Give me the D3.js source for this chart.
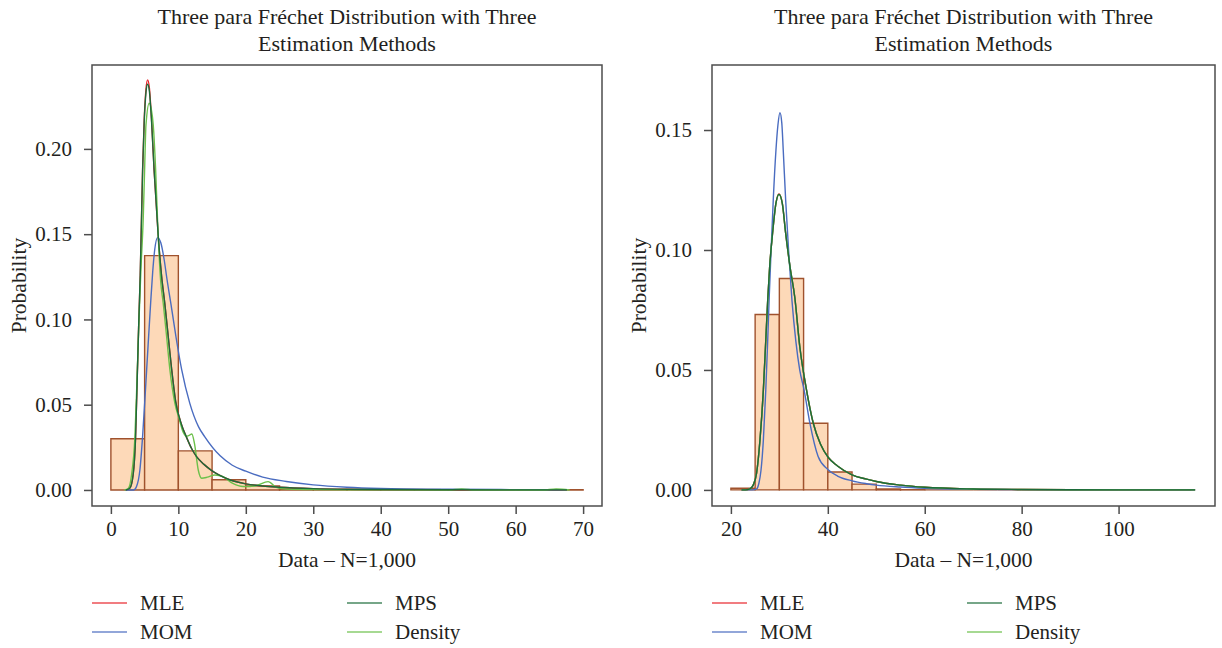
<!DOCTYPE html>
<html>
<head>
<meta charset="utf-8">
<script src="https://cdn.jsdelivr.net/npm/d3@7/dist/d3.min.js"></script>
<style>
  html, body { margin: 0; padding: 0; background: #fff; }
  svg { display: block; }
  text { font-family: "Liberation Serif", "DejaVu Serif", serif; fill: #231f20; }
</style>
</head>
<body>
<svg id="chart" width="1222" height="648"></svg>
<script>
// ---- Histogram bins (left edge of each 5-unit bin) and densities ----
const leftBinStarts  = [0, 5, 10, 15, 20, 25, 30, 35, 40, 45, 50, 55, 60, 65];
const leftHist       = [0.0300, 0.1374, 0.0229, 0.0060, 0.0024, 0.0006, 0.0002,
                        0.0001, 0.0001, 0.0001, 0.0001, 0, 0, 0.0001];
const rightBinStarts = [20, 25, 30, 35, 40, 45, 50, 55, 60, 65, 70, 75, 80, 85,
                        90, 95, 100, 105, 110];
const rightHist      = [0.0007, 0.0731, 0.0881, 0.0278, 0.0075, 0.0024, 0.0004,
                        0.0001, 0, 0, 0, 0, 0, 0, 0, 0, 0, 0, 0];
const binWidthLeft  = 5;
const binWidthRight = 5;

// ---- Fitted curves, [x, density] ----
const leftMLE = [[2.2,0],[2.8,0.001],[3.3,0.009],[3.66,0.031],[3.9,0.065],[4.1,0.094],
  [4.35,0.126],[4.7,0.188],[4.94,0.217],[5.2,0.235],[5.44,0.2405],[5.7,0.236],[6.03,0.217],
  [6.4,0.188],[7.0,0.150],[7.5,0.126],[8.0,0.109],[8.5,0.090],[9.0,0.071],[9.6,0.052],
  [10.5,0.038],[11.2,0.031],[12.0,0.024],[12.7,0.0195],[13.8,0.015],[14.9,0.0115],
  [16,0.0088],[17.6,0.006],[20,0.0036],[22.5,0.0023],[25,0.0016],[30,0.0008],
  [35,0.0004],[40,0.00025],[50,0.0001],[60,0.00005],[67.6,0.00003]];
const leftMPS = [[2.2,0],[2.8,0.001],[3.3,0.009],[3.66,0.031],[3.9,0.065],[4.1,0.094],
  [4.35,0.126],[4.7,0.187],[4.94,0.216],[5.2,0.233],[5.44,0.238],[5.7,0.234],[6.03,0.216],
  [6.4,0.188],[7.0,0.150],[7.5,0.126],[8.0,0.109],[8.5,0.090],[9.0,0.071],[9.6,0.052],
  [10.5,0.038],[11.2,0.031],[12.0,0.024],[12.7,0.0195],[13.8,0.015],[14.9,0.0115],
  [16,0.0088],[17.6,0.006],[20,0.0036],[22.5,0.0023],[25,0.0016],[30,0.0008],
  [35,0.0004],[40,0.00025],[50,0.0001],[60,0.00005],[67.6,0.00003]];
const leftMOM = [[2.2,0],[3.4,0],[3.8,0.002],[4.3,0.0117],[4.7,0.0313],[5.3,0.0704],
  [5.89,0.1095],[6.2,0.128],[6.5,0.141],[6.92,0.148],[7.4,0.145],[7.9,0.135],[8.3,0.124],
  [9.0,0.1065],[9.64,0.090],[10.5,0.0704],[11.7,0.0508],[13.0,0.037],[13.9,0.0313],
  [16.2,0.020],[18,0.0145],[20,0.011],[22.5,0.0075],[26,0.005],[30,0.003],[35,0.0016],
  [40,0.0009],[50,0.0004],[60,0.0002],[67.6,0.0001]];
const leftDensity = [[2.0,0],[2.6,0.001],[3.07,0.009],[3.56,0.031],[3.9,0.068],[4.2,0.103],
  [4.45,0.129],[4.8,0.160],[5.0,0.188],[5.2,0.214],[5.68,0.2268],[6.0,0.223],[6.28,0.214],
  [6.63,0.188],[6.92,0.158],[7.37,0.123],[7.76,0.1095],[8.26,0.090],[8.75,0.0704],
  [9.49,0.0508],[10.1,0.042],[10.7,0.034],[11.2,0.0315],[11.6,0.032],[12.0,0.0328],
  [12.4,0.027],[12.95,0.0117],[13.45,0.0069],[14.3,0.0075],[15.4,0.0088],[16.65,0.0078],
  [18,0.004],[19.6,0.002],[21.5,0.0025],[23.3,0.0049],[24.6,0.0014],[26,0.0005],
  [30,0.0002],[40,0.0001],[50,0],[52,0.0006],[54,0],[64,0],[66,0.0006],[68,0]];

const rightMLE = [[22.2,0],[23.0,0],[23.9,0.0004],[24.6,0.002],[25.3,0.007],[26.0,0.0208],
  [26.7,0.0417],[27.2,0.0625],[27.6,0.0792],[28.0,0.093],[28.6,0.107],[29.3,0.1195],
  [29.92,0.1234],[30.6,0.1195],[31.3,0.107],[32.2,0.093],[33.2,0.080],[34.2,0.060],
  [35.6,0.0417],[37.0,0.0278],[38.5,0.019],[40.1,0.0135],[42,0.0100],[45,0.0063],
  [48,0.0045],[50,0.0035],[55,0.002],[60,0.0011],[70,0.0004],[80,0.00018],[90,0.00008],
  [100,0.00004],[115.8,0.00001]];
const rightMPS = [[22.2,0],[23.0,0],[23.9,0.0004],[24.6,0.002],[25.3,0.007],[26.0,0.0208],
  [26.7,0.0417],[27.2,0.0625],[27.6,0.0792],[28.0,0.093],[28.6,0.107],[29.3,0.1195],
  [29.92,0.1232],[30.6,0.1195],[31.3,0.107],[32.2,0.093],[33.2,0.080],[34.2,0.060],
  [35.6,0.0417],[37.0,0.0278],[38.5,0.019],[40.1,0.0135],[42,0.0100],[45,0.0063],
  [48,0.0045],[50,0.0035],[55,0.002],[60,0.0011],[70,0.0004],[80,0.00018],[90,0.00008],
  [100,0.00004],[115.8,0.00001]];
const rightMOM = [[22.2,0],[24.5,0],[25.3,0.0004],[25.8,0.003],[26.2,0.008],[26.7,0.0208],
  [27.2,0.0417],[27.6,0.0625],[27.9,0.080],[28.3,0.100],[28.74,0.1208],[29.3,0.1417],
  [29.7,0.152],[30.12,0.1572],[30.5,0.153],[30.8,0.1417],[31.3,0.1208],[31.9,0.100],
  [32.6,0.079],[33.4,0.062],[34.2,0.050],[35.1,0.0417],[36.3,0.0278],[38.0,0.0139],
  [40,0.0085],[42,0.0058],[45,0.0038],[48,0.0026],[50,0.002],[55,0.0012],[60,0.0007],
  [70,0.0003],[80,0.00012],[90,0.00005],[115.8,0.00001]];
const rightDensity = rightMPS;

// ---- Tick labels ----
const leftXTicks  = [0, 10, 20, 30, 40, 50, 60, 70];
const leftYTicks  = [0, 0.05, 0.10, 0.15, 0.20];
const rightXTicks = [20, 40, 60, 80, 100];
const rightYTicks = [0, 0.05, 0.10, 0.15];

const titleLines = ["Three para Fréchet Distribution with Three", "Estimation Methods"];
const xTitle = "Data \u2013 N=1,000";
const yTitle = "Probability";
const legendItems = [
  { name: "MLE", color: "#e8262c", col: 0, row: 0 },
  { name: "MOM", color: "#4a6cc0", col: 0, row: 1 },
  { name: "MPS", color: "#1c6b3a", col: 1, row: 0 },
  { name: "Density", color: "#6cc04a", col: 1, row: 1 }
];

const colors = { MLE: "#e8262c", MOM: "#4a6cc0", MPS: "#1c6b3a", Density: "#6cc04a" };

const svg = d3.select("#chart");

function drawPanel(cfg) {
  const g = svg.append("g");
  const x = d3.scaleLinear().domain(cfg.xDomain).range([cfg.left, cfg.right]);
  const y = d3.scaleLinear().domain(cfg.yDomain).range([cfg.bottom, cfg.top]);

  const clipId = "clip-" + cfg.id;
  svg.append("clipPath").attr("id", clipId)
    .append("rect")
    .attr("x", cfg.left).attr("y", cfg.top)
    .attr("width", cfg.right - cfg.left).attr("height", cfg.bottom - cfg.top);

  // histogram: closed paths so that empty bins still show their outline
  g.append("g").selectAll("path")
    .data(cfg.binStarts.map((b, i) => ({ b, h: cfg.hist[i] })))
    .join("path")
    .attr("d", d => {
      const x0 = x(d.b), x1 = x(d.b + cfg.binWidth), y0 = y(0), y1 = y(d.h);
      return `M${x0},${y0}L${x0},${y1}L${x1},${y1}L${x1},${y0}Z`;
    })
    .attr("fill", "#fdd9b8")
    .attr("stroke", "#a0522d")
    .attr("stroke-width", 1.4)
    .attr("stroke-linejoin", "miter");

  // curves
  const line = d3.line()
    .x(d => x(d[0])).y(d => y(d[1]))
    .curve(d3.curveMonotoneX);
  const curves = g.append("g").attr("clip-path", `url(#${clipId})`);
  [["MLE", cfg.mle], ["MOM", cfg.mom], ["Density", cfg.density], ["MPS", cfg.mps]]
    .forEach(([name, pts]) => {
      curves.append("path")
        .datum(pts)
        .attr("d", line)
        .attr("fill", "none")
        .attr("stroke", colors[name])
        .attr("stroke-width", 1.4);
    });

  // frame
  g.append("rect")
    .attr("x", cfg.left).attr("y", cfg.top)
    .attr("width", cfg.right - cfg.left).attr("height", cfg.bottom - cfg.top)
    .attr("fill", "none").attr("stroke", "#4d4d4d").attr("stroke-width", 1.5);

  // axes
  const xAxis = g.append("g")
    .attr("transform", `translate(0,${cfg.bottom})`)
    .call(d3.axisBottom(x).tickValues(cfg.xTicks).tickSize(8).tickPadding(7)
      .tickFormat(d3.format("d")));
  const yAxis = g.append("g")
    .attr("transform", `translate(${cfg.left},0)`)
    .call(d3.axisLeft(y).tickValues(cfg.yTicks).tickSize(8).tickPadding(12)
      .tickFormat(d3.format(".2f")));
  [xAxis, yAxis].forEach(a => {
    a.select(".domain").remove();
    a.selectAll(".tick line").attr("stroke", "#4d4d4d").attr("stroke-width", 1.5);
    a.selectAll(".tick text")
      .style("font-family", '"Liberation Serif", serif')
      .style("font-size", "21px")
      .attr("fill", "#231f20");
  });

  const cx = (cfg.left + cfg.right) / 2;
  // title
  g.append("text").attr("x", cx).attr("y", 24).attr("text-anchor", "middle")
    .style("font-size", "22px").text(titleLines[0]);
  g.append("text").attr("x", cx).attr("y", 51).attr("text-anchor", "middle")
    .style("font-size", "22px").text(titleLines[1]);
  // axis titles
  g.append("text").attr("x", cx).attr("y", 567).attr("text-anchor", "middle")
    .style("font-size", "21.5px").text(xTitle);
  g.append("text")
    .attr("transform", `translate(${cfg.left - 66},${(cfg.top + cfg.bottom) / 2}) rotate(-90)`)
    .attr("text-anchor", "middle")
    .style("font-size", "21.5px").text(yTitle);

  // legend
  const lg = g.append("g").attr("transform", `translate(${cfg.left},0)`);
  legendItems.forEach(it => {
    const lx = it.col * 255;
    const ly = 603 + it.row * 29;
    lg.append("line")
      .attr("x1", lx).attr("x2", lx + 35).attr("y1", ly).attr("y2", ly)
      .attr("stroke", it.color).attr("stroke-width", 1.5).attr("opacity", 0.8);
    lg.append("text").attr("x", lx + 48).attr("y", ly + 7)
      .style("font-size", "21px").text(it.name);
  });
}

drawPanel({
  id: "left", left: 92, right: 602, top: 65, bottom: 506,
  xDomain: [-2.8, 72.8], yDomain: [-0.0094, 0.2492],
  binStarts: leftBinStarts, hist: leftHist, binWidth: binWidthLeft,
  mle: leftMLE, mps: leftMPS, mom: leftMOM, density: leftDensity,
  xTicks: leftXTicks, yTicks: leftYTicks
});
drawPanel({
  id: "right", left: 712, right: 1215, top: 65, bottom: 506,
  xDomain: [16.1, 119.9], yDomain: [-0.0067, 0.1771],
  binStarts: rightBinStarts, hist: rightHist, binWidth: binWidthRight,
  mle: rightMLE, mps: rightMPS, mom: rightMOM, density: rightDensity,
  xTicks: rightXTicks, yTicks: rightYTicks
});
</script>
</body>
</html>
